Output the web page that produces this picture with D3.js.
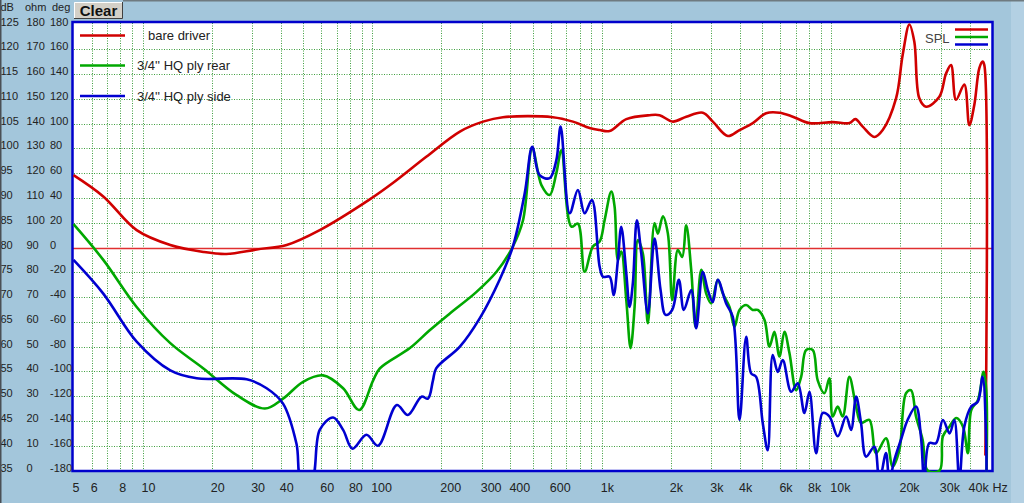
<!DOCTYPE html>
<html>
<head>
<meta charset="utf-8">
<script src="https://cdn.jsdelivr.net/npm/d3@7"></script>
<style>
  body { margin: 0; background: #a3c6db; overflow: hidden; }
  svg { display: block; font-family: "Liberation Sans", Arial, sans-serif; }
</style>
</head>
<body>
<div id="chart"></div>
<script>
// frequency (Hz), level (dB)
const bareDriver = [
  [5,94.6],[6.74,90.3],[9.42,83.5],[13.2,80.5],[18.4,79.1],[23.2,78.7],[31.4,79.6],[42.4,80.5],
  [59.1,83.5],[97.6,89.7],[123,93.0],[172,98.3],[241,103.4],[304,105.4],[371,106.3],[612,106.3],
  [749,105.4],[885,104.1],[979,103.7],[1082,103.5],[1279,105.9],[1615,106.7],[1786,106.7],
  [2041,105.4],[2333,106.4],[2755,107.2],[3047,105.4],[3540,102.5],[3981,103.7],[4549,105.1],
  [5202,107.1],[5943,107.2],[6792,106.4],[8035,105.1],[10140,105.3],[11990,105.1],[12730,105.9],
  [13700,104.4],[15400,102.3],[16740,103.7],[19140,110.1],[20460,118.9],[21870,125.0],[22990,121.5],
  [24170,110.1],[25860,108.4],[29550,110.4],[31600,115.1],[33220,116.8],[34920,109.8],[37950,112.9],
  [39900,104.7],[41970,108.8],[44120,116.2],[45600,117.5],[46390,116.8],[46900,38]
];
const plyRear = [
  [5,84.7],[6.74,77.5],[9.42,68.0],[13.2,60.7],[18.4,55.6],[25.7,50.2],[34.1,47.5],[40.9,49.5],
  [50,52.9],[61.1,54.2],[74.7,51.6],[87.7,47.2],[101,53.2],[108,55.6],[146,59.7],[178,63.3],
  [218,66.7],[284,71.0],[348,75.1],[410,80.2],[454,85.5],[498,100.0],[546,92.6],[593,90.6],
  [634,95.0],[667,99.6],[737,84.2],[787,84.8],[842,75.1],[915,80.2],[979,81.2],[1029,85.5],
  [1100,91.3],[1137,88.3],[1176,77.5],[1216,79.2],[1279,69.4],[1335,59.7],[1390,68.0],[1437,81.5],
  [1510,78.8],[1588,64.7],[1698,84.9],[1755,82.8],[1846,86.3],[1941,82.8],[2028,69.4],[2145,79.5],
  [2241,78.1],[2333,84.5],[2453,75.5],[2561,64.0],[2712,75.5],[2851,70.7],[2997,68.7],[3202,73.5],
  [3367,70.7],[3601,68.0],[3786,64.0],[3981,67.4],[4256,68.4],[4547,67.4],[4780,67.4],[5112,65.4],
  [5376,60.0],[5653,63.0],[5941,58.0],[6248,63.0],[6569,58.7],[7025,51.2],[7387,53.9],[7767,59.3],
  [8297,59.3],[8722,53.2],[9329,50.6],[9806,53.6],[10140,45.9],[10660,47.9],[11210,45.9],[11980,53.9],
  [12820,47.9],[13470,44.6],[14640,45.2],[15660,38.5],[17310,41.5],[18490,35.8],[19780,39.1],
  [21150,50.6],[22240,51.2],[23380,45.9],[24980,41.2],[26270,35],[29620,35],[30620,41.9],
  [32740,43.9],[35030,45.6],[37410,43.9],[39340,38.5],[40700,47.2],[43480,49.2],[46040,54.9],
  [47300,51.2],[47400,34]
];
const plySide = [
  [5,77.5],[6.74,70.7],[9.42,61.0],[13.2,55.2],[17.2,53.6],[28.4,53.4],[34.7,51.6],[40.9,48.5],
  [46.8,40.4],[49.2,33],[54.4,33],[59.1,43.2],[67.6,45.7],[74.7,43.2],[82.1,39.4],[94.4,42.2],
  [106,40.0],[128,48.2],[143,46.2],[164,49.9],[175,49.5],[184,53.2],[190,55.6],[241,60.0],
  [294,65.7],[359,73.5],[410,80.2],[462,91.0],[498,100.3],[536,94.6],[593,94.0],[634,97.6],
  [662,104.4],[725,86.9],[787,91.6],[842,86.9],[906,89.6],[979,76.1],[1012,74.1],[1082,74.1],
  [1126,70.4],[1176,77.5],[1216,84.2],[1279,74.8],[1322,68.0],[1366,72.8],[1422,85.5],[1486,78.8],
  [1588,66.7],[1698,81.8],[1804,71.4],[1897,66.4],[2026,67.4],[2167,73.5],[2278,67.4],[2453,71.4],
  [2579,63.7],[2755,75.1],[2897,71.4],[3045,69.0],[3202,73.5],[3483,68.7],[3722,66.0],[3981,45.2],
  [4256,62.0],[4474,54.6],[4704,53.9],[5026,44.6],[5284,39.1],[5557,58.3],[5842,54.9],[6143,57.3],
  [6682,50.9],[7139,52.6],[7636,46.6],[8029,50.9],[8584,38.5],[9171,46.6],[9806,45.9],[10660,41.9],
  [11600,45.9],[12190,43.2],[12820,49.9],[13470,44.6],[14170,37.8],[15390,39.8],[16190,33],
  [17310,38.5],[17890,33],[18810,37.1],[20100,41.2],[21490,45.2],[23380,47.9],[24560,41.9],
  [25390,33],[26700,40.5],[28550,40.5],[30620,45.2],[32740,42.5],[34340,45.2],[36100,33],
  [37960,43.9],[40700,47.9],[43480,48.9],[45590,53.9],[47300,39.8],[47400,33]
];

const seriesNames = ["bare driver", "3/4'' HQ ply rear", "3/4'' HQ ply side"];
const seriesColors = ["#d00000", "#00a800", "#0000d0"];
const seriesData = [bareDriver, plyRear, plySide];

const xTickVals = [5,6,8,10,20,30,40,60,80,100,200,300,400,600,1000,2000,3000,4000,6000,8000,10000,20000,30000,40000];
const dbTicks = [125,120,115,110,105,100,95,90,85,80,75,70,65,60,55,50,45,40,35];
const ohmTicks = [180,170,160,150,140,130,120,110,100,90,80,70,60,50,40,30,20,10,0];
const degTicks = [180,160,140,120,100,80,60,40,20,0,-20,-40,-60,-80,-100,-120,-140,-160,-180];
const refLevel = 80; // 0 deg line

const W = 1024, H = 503;
const svg = d3.select("#chart").append("svg").attr("width", W).attr("height", H);

svg.append("rect").attr("width", W).attr("height", H).attr("fill", "#a3c6db");
svg.append("rect").attr("x", 1011).attr("width", 13).attr("height", H).attr("fill", "#b3d0e3");
svg.append("rect").attr("x", 123).attr("width", W - 123).attr("height", 1.5).attr("fill", "#6f7a80");

const x = d3.scaleLog().domain([5, 50000]).range([73.5, 991.8]);
const y = d3.scaleLinear().domain([35, 125]).range([470.5, 24.5]);

// plot area
svg.append("rect")
  .attr("x", 72.5).attr("y", 22).attr("width", 920).attr("height", 449)
  .attr("fill", "#fff");

// dotted grid, snapped to pixels
const gridX = x.ticks().filter(v => v > 5 && v < 50000);
const gridY = y.ticks(18).filter(v => v > 35 && v < 125);
const grid = svg.append("g").attr("stroke", "#3f9f3f").attr("stroke-dasharray", "1,1.5");
grid.selectAll(".gx").data(gridX).enter().append("line")
  .attr("x1", d => Math.round(x(d)) + 0.5).attr("x2", d => Math.round(x(d)) + 0.5)
  .attr("y1", 23).attr("y2", 470);
grid.selectAll(".gy").data(gridY).enter().append("line")
  .attr("y1", d => Math.round(y(d)) + 0.5).attr("y2", d => Math.round(y(d)) + 0.5)
  .attr("x1", 74).attr("x2", 991);

// 0 deg reference
svg.append("line")
  .attr("x1", 73).attr("x2", 992).attr("y1", Math.round(y(refLevel)) + 0.5).attr("y2", Math.round(y(refLevel)) + 0.5)
  .attr("stroke", "#e03030").attr("stroke-width", 1.3);

// frame
svg.append("rect")
  .attr("x", 72.5).attr("y", 22).attr("width", 920).attr("height", 449)
  .attr("fill", "none").attr("stroke", "#0000cc").attr("stroke-width", 2.5);

svg.append("clipPath").attr("id", "plotclip")
  .append("rect").attr("x", 72).attr("y", 21).attr("width", 921).attr("height", 451);

const line = d3.line()
  .x(d => x(d[0])).y(d => y(d[1]))
  .curve(d3.curveCatmullRom.alpha(0.5));

svg.append("g").attr("clip-path", "url(#plotclip)")
  .selectAll("path")
  .data(seriesData)
  .enter().append("path")
    .attr("d", line)
    .attr("fill", "none")
    .attr("stroke", (d, i) => seriesColors[i])
    .attr("stroke-width", 2.6)
    .attr("stroke-linejoin", "round");

// legend (left)
const legY = [35.5, 65.5, 96];
const legTextX = [148, 137, 137];
const leg = svg.append("g");
seriesNames.forEach((name, i) => {
  leg.append("line").attr("x1", 80).attr("x2", 125).attr("y1", legY[i]).attr("y2", legY[i])
    .attr("stroke", seriesColors[i]).attr("stroke-width", 2.5);
  leg.append("text").attr("x", legTextX[i]).attr("y", legY[i] + 4.5)
    .attr("font-size", 13).attr("fill", "#222").text(name);
});

// legend (right)
svg.append("text").attr("x", 925).attr("y", 42.5).attr("font-size", 13).attr("fill", "#444").text("SPL");
[29.5, 37, 44.5].forEach((yy, i) => {
  svg.append("line").attr("x1", 955).attr("x2", 988).attr("y1", yy).attr("y2", yy)
    .attr("stroke", seriesColors[i]).attr("stroke-width", 2.5);
});

// x axis labels
svg.append("g").attr("transform", "translate(-1,0)")
  .selectAll("text").data(xTickVals).enter().append("text")
    .attr("x", d => x(d)).attr("y", 492)
    .attr("font-size", 12.5).attr("fill", "#222")
    .text(d => d >= 1000 ? (d / 1000) + "k" : d);
svg.append("text").attr("x", 992.5).attr("y", 492).attr("font-size", 12.5).attr("fill", "#222").text("Hz");

// y axis labels: dB / ohm / deg
const yl = svg.append("g").attr("font-size", 11).attr("fill", "#222");
yl.selectAll(".db").data(dbTicks).enter().append("text")
  .attr("x", 0.5).attr("y", d => y(d) + 1).text(d => d);
yl.selectAll(".ohm").data(ohmTicks).enter().append("text")
  .attr("x", 26.5).attr("y", (d, i) => y(dbTicks[i]) + 1).text(d => d);
yl.selectAll(".deg").data(degTicks).enter().append("text")
  .attr("x", 50).attr("y", (d, i) => y(dbTicks[i]) + 1).text(d => d);
yl.append("text").attr("x", 0.5).attr("y", 11).text("dB");
yl.append("text").attr("x", 25).attr("y", 11).text("ohm");
yl.append("text").attr("x", 52).attr("y", 11).text("deg");

svg.append("rect").attr("width", 1.5).attr("height", H).attr("fill", "#4a4f55");

// Clear button
const btn = svg.append("g");
btn.append("rect").attr("x", 74).attr("y", 2).attr("width", 49).attr("height", 17).attr("fill", "#d4d0c8");
btn.append("path").attr("d", "M74.5,18.5V2.5H122.5").attr("fill", "none").attr("stroke", "#fff");
btn.append("path").attr("d", "M74,18.5H122.5V2").attr("fill", "none").attr("stroke", "#404040");
btn.append("text").attr("x", 98.5).attr("y", 16).attr("text-anchor", "middle")
  .attr("font-size", 15).attr("font-weight", "bold").attr("fill", "#111").text("Clear");
</script>
</body>
</html>
